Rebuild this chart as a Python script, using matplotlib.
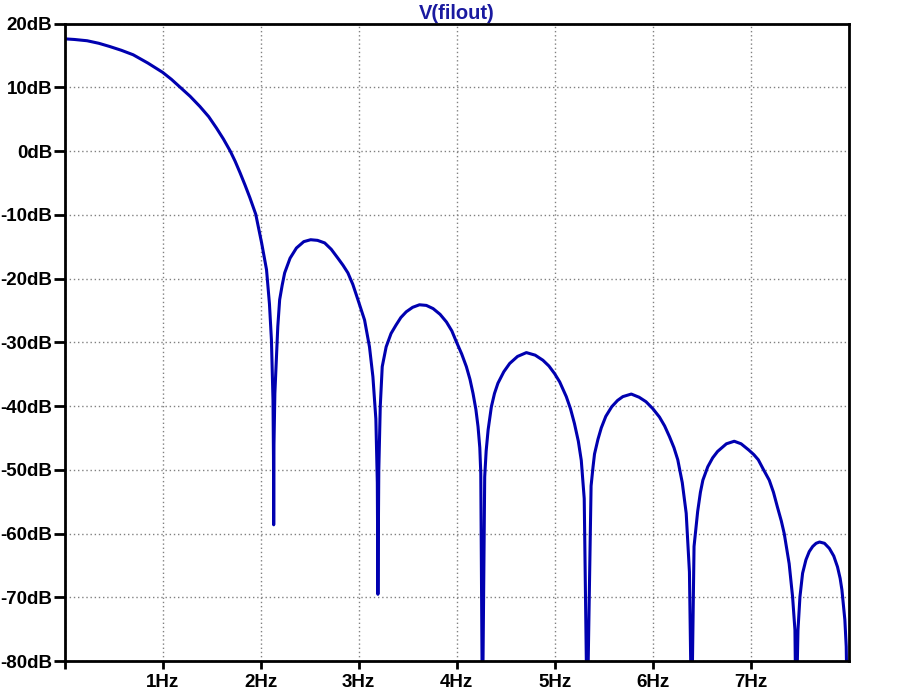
import matplotlib
matplotlib.use("Agg")
import matplotlib.pyplot as plt

plt.rcParams['font.family'] = ['Liberation Sans', 'DejaVu Sans']

freq_hz = [0.00, 0.10, 0.23, 0.35, 0.46, 0.58, 0.70, 0.85, 1.00, 1.09, 1.18, 1.28,
           1.38, 1.47, 1.55, 1.62, 1.69, 1.74, 1.79, 1.84, 1.89, 1.95, 2.01, 2.06,
           2.09, 2.11, 2.126, 2.131, 2.133, 2.136, 2.145, 2.154, 2.175, 2.194, 2.22,
           2.245, 2.30, 2.365, 2.44, 2.51, 2.58, 2.653, 2.72, 2.788, 2.84, 2.89,
           2.94, 2.992, 3.06, 3.11, 3.145, 3.175, 3.19, 3.196, 3.205, 3.22, 3.24,
           3.28, 3.33, 3.38, 3.43, 3.485, 3.55, 3.62, 3.69, 3.759, 3.83, 3.895,
           3.95, 3.996, 4.05, 4.098, 4.135, 4.166, 4.195, 4.217, 4.235, 4.245,
           4.262, 4.285, 4.30, 4.32, 4.353, 4.385, 4.42, 4.48, 4.54, 4.62, 4.71,
           4.80, 4.879, 4.94, 4.998, 5.05, 5.117, 5.16, 5.20, 5.24, 5.27, 5.30,
           5.33, 5.37, 5.39, 5.405, 5.44, 5.474, 5.52, 5.58, 5.64, 5.694, 5.78,
           5.86, 5.93, 6.00, 6.067, 6.12, 6.17, 6.215, 6.254, 6.30, 6.34, 6.373,
           6.395, 6.42, 6.44, 6.457, 6.485, 6.51, 6.56, 6.61, 6.66, 6.75, 6.83,
           6.90, 6.98, 7.03, 7.075, 7.13, 7.187, 7.23, 7.27, 7.31, 7.34, 7.39,
           7.425, 7.449, 7.46, 7.48, 7.50, 7.527, 7.561, 7.595, 7.63, 7.665, 7.70,
           7.75, 7.80, 7.845, 7.883, 7.91, 7.928, 7.958, 7.972, 7.985]
mag_db = [17.6, 17.5, 17.3, 16.9, 16.4, 15.8, 15.1, 13.8, 12.35, 11.25, 10.0, 8.6,
          7.0, 5.4, 3.6, 1.9, 0.0, -1.6, -3.4, -5.3, -7.3, -9.9, -14.4, -18.6,
          -24.0, -29.6, -39.0, -48.0, -58.6, -46.0, -38.0, -34.8, -27.5, -23.3, -21.0,
          -19.1, -16.8, -15.2, -14.2, -13.9, -14.0, -14.4, -15.4, -16.8, -17.9, -19.1,
          -20.9, -23.3, -26.5, -30.7, -35.4, -42.0, -52.0, -69.5, -50.0, -40.0, -33.8,
          -30.7, -28.6, -27.3, -26.1, -25.2, -24.5, -24.1, -24.2, -24.7, -25.6, -26.8,
          -28.2, -29.9, -31.8, -33.8, -35.8, -38.0, -40.5, -43.2, -46.5, -50.5,
          -90.0, -51.1, -47.0, -43.7, -40.1, -38.0, -36.4, -34.6, -33.3, -32.2, -31.6,
          -32.0, -32.8, -33.7, -34.9, -36.2, -38.5, -40.4, -42.7, -45.5, -48.5, -54.5,
          -90.0, -52.5, -49.5, -47.5, -45.2, -43.4, -41.6, -40.1, -39.1, -38.5, -38.1,
          -38.6, -39.3, -40.4, -41.7, -43.1, -44.8, -46.5, -48.4, -52.0, -56.8, -66.0,
          -90.0, -62.0, -59.0, -56.5, -53.5, -51.6, -49.5, -48.1, -47.1, -45.9, -45.5,
          -45.9, -46.9, -47.6, -48.4, -50.0, -51.6, -53.5, -55.8, -58.0, -60.0, -64.7,
          -69.9, -75.1, -90.0, -75.1, -69.9, -66.2, -64.1, -62.8, -62.0, -61.5, -61.3,
          -61.5, -62.3, -63.5, -65.2, -67.0, -68.8, -73.5, -77.7, -90.0]

x_ticks = [0, 1, 2, 3, 4, 5, 6, 7]
x_labels = ['', '1Hz', '2Hz', '3Hz', '4Hz', '5Hz', '6Hz', '7Hz']
y_ticks = [-80, -70, -60, -50, -40, -30, -20, -10, 0, 10, 20]
y_labels = ['%ddB' % v for v in y_ticks]

fig = plt.figure(figsize=(9, 6.96), dpi=100)
ax = fig.add_axes([0.0717, 0.0499, 0.9433 - 0.0717, 0.9662 - 0.0499])

ax.plot(freq_hz, mag_db, color='#0000B0', lw=2.2, solid_joinstyle='round')

ax.set_xlim(0, 8)
ax.set_ylim(-80, 20)
ax.set_xticks(x_ticks)
ax.set_xticklabels(x_labels, fontsize=13.5, fontweight='bold')
ax.set_yticks(y_ticks)
ax.set_yticklabels(y_labels, fontsize=13.5, fontweight='bold')
ax.tick_params(axis='y', direction='out', length=8, width=2, pad=1)
ax.tick_params(axis='x', direction='out', length=6, width=2, pad=3)

ax.grid(True, color='#808080', linestyle=(0, (1, 2)), linewidth=1.0)
ax.set_axisbelow(True)
for s in ax.spines.values():
    s.set_linewidth(2)
    s.set_color('black')

ax.set_title('V(filout)', fontsize=14.5, fontweight='bold', color='#1A1AA0', pad=3)

fig.savefig('out.png', dpi=100)
